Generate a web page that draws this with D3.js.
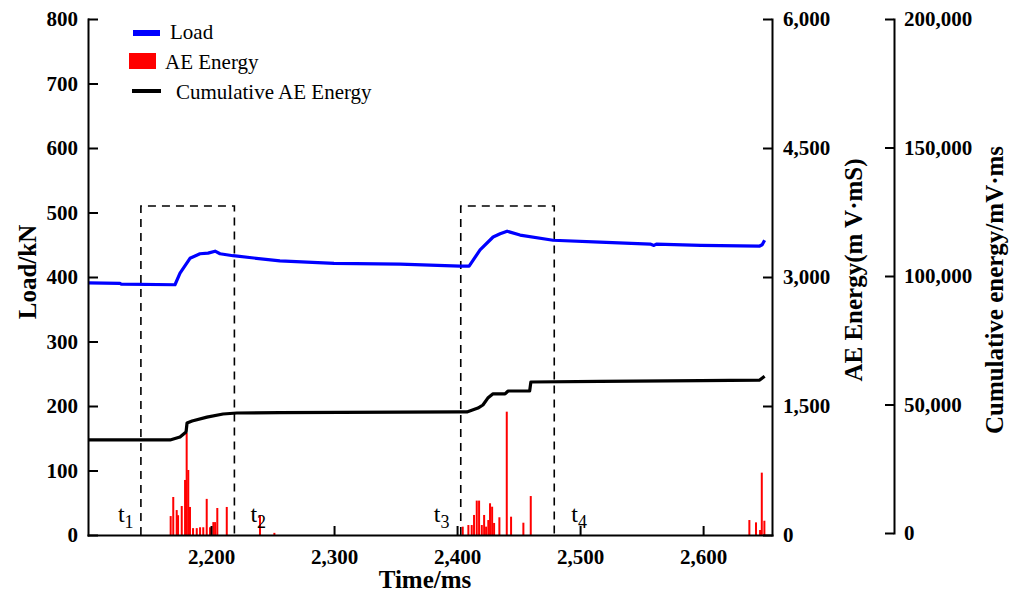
<!DOCTYPE html>
<html>
<head>
<meta charset="utf-8">
<script src="https://cdn.jsdelivr.net/npm/d3@7"></script>
<style>
  body { margin: 0; background: #fff; }
  svg text { font-family: "Liberation Serif", "Times New Roman", serif; }
  .axis text { font-size: 21px; font-weight: bold; fill: #000; }
  .axis path, .axis line { stroke: #000; stroke-width: 2px; }
  .title { font-size: 25px; font-weight: bold; }
</style>
</head>
<body>
<div id="main"></div>
<script>
// load curve (kN)
const loadTime = [2100, 2126, 2127, 2170.7, 2174.8, 2182.9, 2191, 2197.6, 2203.3, 2207.3, 2217.9, 2256, 2300, 2353.7, 2402.4, 2409.8, 2418.7, 2429.3, 2435, 2440.7, 2451.2, 2478, 2516, 2557, 2560, 2562, 2598, 2646, 2648, 2650];
const loadVal  = [391, 390, 389, 388, 406, 429, 436, 437, 440, 436, 433, 425, 421, 420, 417, 417, 442, 462, 467, 471, 465, 457, 454, 451, 449, 451, 449, 448, 450, 457];

// cumulative AE energy (mV·ms)
const cumTime = [2100, 2166.7, 2174.8, 2179.7, 2180.5, 2184.6, 2196.7, 2209.8, 2221, 2256, 2403, 2408, 2417, 2421, 2425, 2429, 2439, 2441.5, 2459, 2460, 2516, 2598, 2646, 2650];
const cumVal  = [36200, 36200, 37350, 39300, 42800, 43600, 45100, 46300, 46700, 46800, 47100, 47100, 48600, 49800, 52500, 54100, 54100, 55250, 55250, 58750, 59000, 59300, 59500, 61000];

// AE energy bars (mV·mS)
const aeTime = [2167.2, 2169.3, 2172.1, 2173.2, 2176.2, 2178.9, 2180.2, 2181.5, 2182.9, 2185.4, 2188.4, 2191.1, 2193.7, 2196.5, 2199.2, 2201.9, 2203.3, 2205.1, 2212.8, 2239.8, 2251.5,
                2404.6, 2409.2, 2411.9, 2413.8, 2416, 2417.9, 2420.1, 2422, 2423.6, 2425.4, 2426.8, 2428.5, 2430.1, 2434.4, 2440.4, 2443.9, 2453.9, 2459.9,
                2637.6, 2643, 2646.3, 2647.7, 2649.8];
const aeVal  = [220, 442, 290, 230, 337, 640, 1186, 756, 326, 80, 80, 90, 90, 420, 90, 150, 150, 314, 326, 230, 25,
                97, 116, 116, 233, 400, 400, 116, 233, 97, 174, 369, 329, 140, 206, 1434, 213, 143, 453,
                174, 147, 58, 725, 166];

// stage markers
const stageTime  = [2143, 2219, 2403, 2479];
const stageLabel = ["1", "2", "3", "4"];
const boxTop = 510;

const timeTicks = [2200, 2300, 2400, 2500, 2600];
const loadTicks = [0, 100, 200, 300, 400, 500, 600, 700, 800];
const aeTicks   = [0, 1500, 3000, 4500, 6000];
const cumTicks  = [0, 50000, 100000, 150000, 200000];

const width = 1019, height = 597;
const svg = d3.select('#main').append('svg')
  .attr('width', width).attr('height', height);

const x = d3.scaleLinear().domain([2100, 2656]).range([88, 772]);
const yLoad = d3.scaleLinear().domain([0, 800]).range([535, 19]);
const yAE = d3.scaleLinear().domain([0, 6000]).range([535, 19]);
const yCum = d3.scaleLinear().domain([0, 200000]).range([533, 19]);
const fmt = d3.format(",");

// AE bars
svg.append('g').attr('fill', '#ff0000')
  .selectAll('rect')
  .data(aeTime)
  .join('rect')
    .attr('x', d => x(d) - 1)
    .attr('width', 2)
    .attr('y', (d, i) => yAE(aeVal[i]))
    .attr('height', (d, i) => yAE(0) - yAE(aeVal[i]));

// dashed boxes
for (let k = 0; k < 2; k++) {
  const a = stageTime[2 * k], b = stageTime[2 * k + 1];
  svg.append('path')
    .attr('d', d3.line()([[x(a), yLoad(0)], [x(a), yLoad(boxTop)], [x(b), yLoad(boxTop)], [x(b), yLoad(0)]]))
    .attr('fill', 'none')
    .attr('stroke', '#000')
    .attr('stroke-width', 1.6)
    .attr('stroke-dasharray', '8,6');
}

// load line
svg.append('path')
  .datum(loadTime)
  .attr('fill', 'none')
  .attr('stroke', '#0000ff')
  .attr('stroke-width', 3.2)
  .attr('stroke-linejoin', 'round')
  .attr('d', d3.line().x(d => x(d)).y((d, i) => yLoad(loadVal[i])));

// cumulative line
svg.append('path')
  .datum(cumTime)
  .attr('fill', 'none')
  .attr('stroke', '#000')
  .attr('stroke-width', 3.2)
  .attr('stroke-linejoin', 'round')
  .attr('d', d3.line().x(d => x(d)).y((d, i) => yCum(cumVal[i])));

// axes
svg.append('g').attr('class', 'axis')
  .attr('transform', `translate(0,${yLoad(0)})`)
  .call(d3.axisBottom(x).tickValues(timeTicks).tickFormat(fmt).tickSizeInner(-9).tickSizeOuter(0).tickPadding(14));

svg.append('g').attr('class', 'axis')
  .attr('transform', `translate(${x.range()[0]},0)`)
  .call(d3.axisLeft(yLoad).tickValues(loadTicks).tickSizeInner(-10).tickSizeOuter(0).tickPadding(10));

svg.append('g').attr('class', 'axis')
  .attr('transform', `translate(${x.range()[1]},0)`)
  .call(d3.axisRight(yAE).tickValues(aeTicks).tickFormat(fmt).tickSizeInner(-9).tickSizeOuter(0).tickPadding(11));

svg.append('g').attr('class', 'axis')
  .attr('transform', 'translate(894,0)')
  .call(d3.axisRight(yCum).tickValues(cumTicks).tickFormat(fmt).tickSizeInner(-9).tickSizeOuter(0).tickPadding(10));

svg.selectAll('.axis .domain').attr('stroke-linecap', 'square');

// stage labels
const labelDx = [-23, 16, -27, 17];
stageTime.forEach((t, i) => {
  const tx = svg.append('text')
    .attr('x', x(t) + labelDx[i])
    .attr('y', 522)
    .attr('font-size', 24);
  tx.append('tspan').text('t');
  tx.append('tspan').attr('font-size', 18).attr('dy', 6).text(stageLabel[i]);
});

// axis titles
svg.append('text').attr('class', 'title')
  .attr('x', 425).attr('y', 588).attr('text-anchor', 'middle')
  .text('Time/ms');
svg.append('text').attr('class', 'title')
  .attr('transform', 'translate(36,272) rotate(-90)').attr('text-anchor', 'middle')
  .text('Load/kN');
svg.append('text').attr('class', 'title')
  .attr('transform', 'translate(862,270) rotate(-90)').attr('text-anchor', 'middle')
  .text('AE Energy(m V·mS)');
svg.append('text').attr('class', 'title')
  .attr('transform', 'translate(1003,290) rotate(-90)').attr('text-anchor', 'middle')
  .text('Cumulative energy/mV·ms');

// legend
const legend = svg.append('g').attr('font-size', 21);
legend.append('rect').attr('x', 133).attr('y', 30).attr('width', 27).attr('height', 6).attr('fill', '#0000ff');
legend.append('text').attr('x', 170).attr('y', 39).text('Load');
legend.append('rect').attr('x', 129).attr('y', 53).attr('width', 27).attr('height', 16).attr('fill', '#ff0000');
legend.append('text').attr('x', 165).attr('y', 69).text('AE Energy');
legend.append('rect').attr('x', 132).attr('y', 89).attr('width', 29).attr('height', 4).attr('fill', '#000');
legend.append('text').attr('x', 176).attr('y', 99).text('Cumulative AE Energy');
</script>
</body>
</html>
